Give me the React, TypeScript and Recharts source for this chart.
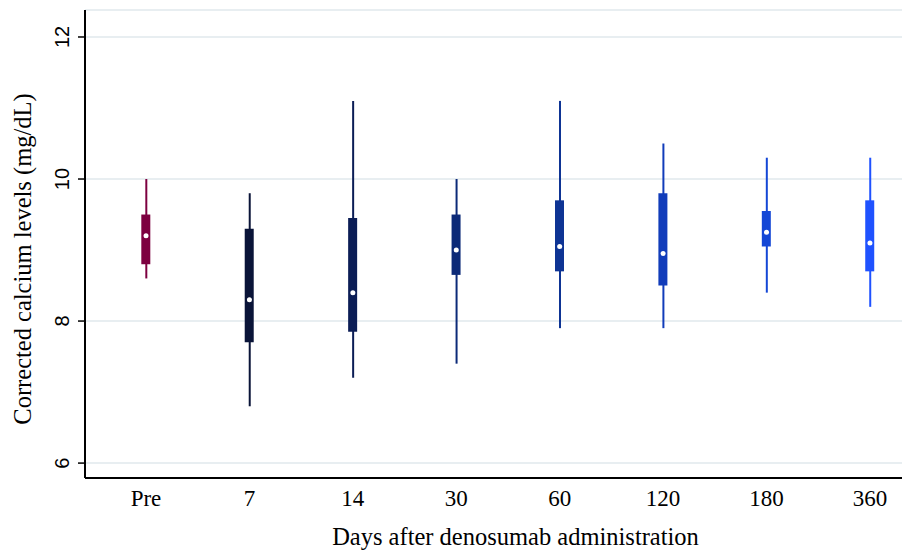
import React from "react";
import { ComposedChart, Bar, Line, XAxis, YAxis, CartesianGrid, Cell } from "recharts";

const categories = ["Pre", "7", "14", "30", "60", "120", "180", "360"];
const whiskerLow = [8.6, 6.8, 7.2, 7.4, 7.9, 7.9, 8.4, 8.2];
const boxLow = [8.8, 7.7, 7.85, 8.65, 8.7, 8.5, 9.05, 8.7];
const medians = [9.2, 8.3, 8.4, 9.0, 9.05, 8.95, 9.25, 9.1];
const boxHigh = [9.5, 9.3, 9.45, 9.5, 9.7, 9.8, 9.55, 9.7];
const whiskerHigh = [10.0, 9.8, 11.1, 10.0, 11.1, 10.5, 10.3, 10.3];
const colors = ["#7d0040", "#0a1438", "#0b1d55", "#0c2a78", "#0e3494", "#113cba", "#1447d6", "#1f52ff"];
const yTicks = [6, 8, 10, 12];

const data = categories.map((c, i) => ({
  idx: i,
  name: c,
  whisker: [whiskerLow[i], whiskerHigh[i]],
  box: [boxLow[i], boxHigh[i]],
  median: medians[i],
}));

const serif = "'Liberation Serif', 'Times New Roman', serif";
const sans = "'Liberation Sans', Arial, sans-serif";

const XTick = (props: any) => {
  const { x, y, payload } = props;
  return (
    <text x={x} y={y + 20} textAnchor="middle" fontFamily={serif} fontSize={23} fill="#000">
      {categories[payload.value]}
    </text>
  );
};

const YTick = (props: any) => {
  const { x, y, payload } = props;
  return (
    <g transform={`translate(${x - 14},${y})`}>
      <text transform="rotate(-90)" textAnchor="middle" dy="0.35em" fontFamily={sans} fontSize={20} fill="#000">
        {payload.value}
      </text>
    </g>
  );
};

const YLabel = (props: any) => {
  const vb = props.viewBox;
  const cy = vb.y + vb.height / 2 + 15;
  return (
    <g transform={`translate(22,${cy})`}>
      <text transform="rotate(-90)" textAnchor="middle" dy="0.35em" fontFamily={serif} fontSize={24.5} fill="#000">
        Corrected calcium levels (mg/dL)
      </text>
    </g>
  );
};

const XLabel = (props: any) => {
  const vb = props.viewBox;
  const cx = vb.x + vb.width / 2 + 22;
  return (
    <text x={cx} y={545} textAnchor="middle" fontFamily={serif} fontSize={24.5} fill="#000">
      Days after denosumab administration
    </text>
  );
};

export default function App() {
  return (
    <div style={{ position: "absolute", left: 0, top: 0, background: "#fff" }}>
      <ComposedChart width={902} height={552} data={data} margin={{ top: 10, right: 0, bottom: 0, left: 0 }}>
        <CartesianGrid horizontal vertical={false} stroke="#e8eef1" strokeWidth={2} xAxisId="b" />
        <XAxis
          xAxisId="b"
          type="number"
          dataKey="idx"
          domain={[-0.59, 7.31]}
          ticks={[0, 1, 2, 3, 4, 5, 6, 7]}
          allowDataOverflow
          height={74}
          tick={<XTick />}
          tickLine={false}
          axisLine={{ stroke: "#000", strokeWidth: 2 }}
          label={<XLabel />}
        />
        <XAxis xAxisId="w" type="number" dataKey="idx" domain={[-0.59, 7.31]} allowDataOverflow hide />
        <YAxis
          type="number"
          domain={[5.79, 12.38]}
          ticks={yTicks}
          allowDataOverflow
          width={85}
          tick={<YTick />}
          tickSize={7}
          tickLine={{ stroke: "#000", strokeWidth: 1.5 }}
          axisLine={{ stroke: "#000", strokeWidth: 2 }}
          label={<YLabel />}
        />
        <Bar xAxisId="w" dataKey="whisker" barSize={2} isAnimationActive={false}>
          {data.map((d, i) => (
            <Cell key={i} fill={colors[i]} />
          ))}
        </Bar>
        <Bar xAxisId="b" dataKey="box" barSize={9} isAnimationActive={false}>
          {data.map((d, i) => (
            <Cell key={i} fill={colors[i]} />
          ))}
        </Bar>
        <Line
          xAxisId="b"
          dataKey="median"
          stroke="none"
          dot={{ r: 2.5, fill: "#fff", stroke: "none" }}
          activeDot={false}
          isAnimationActive={false}
        />
      </ComposedChart>
    </div>
  );
}
